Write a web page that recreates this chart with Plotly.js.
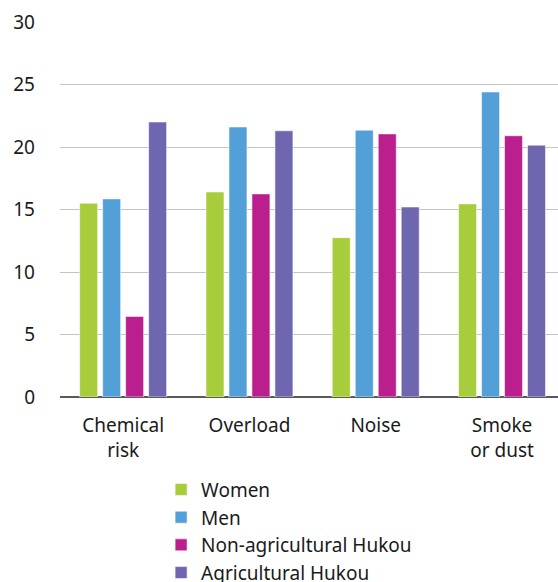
<!DOCTYPE html>
<html>
<head>
<meta charset="utf-8">
<script src="https://cdn.plot.ly/plotly-3.0.1.min.js"></script>
<style>html,body{margin:0;padding:0;background:#fff;}#chart{width:558px;height:582px;}</style>
</head>
<body>
<div id="chart"></div>
<script>
const categories = ["Chemical<br>risk", "Overload", "Noise", "Smoke<br>or dust"];
const seriesNames = ["Women", "Men", "Non-agricultural Hukou", "Agricultural Hukou"];
const women = [15.5, 16.4, 12.75, 15.45];
const men = [15.85, 21.6, 21.35, 24.4];
const nonAgricultural = [6.45, 16.25, 21.05, 20.9];
const agricultural = [22.0, 21.3, 15.2, 20.15];
const yTicks = [0, 5, 10, 15, 20, 25, 30];
const colors = ["#a7cc3c", "#539fd7", "#bb1f8d", "#6e66ae"];

const values = [women, men, nonAgricultural, agricultural];
const traces = values.map((v, i) => ({
  type: "bar",
  name: seriesNames[i],
  x: categories,
  y: v,
  marker: {color: colors[i], line: {color: "rgba(255,255,255,0.7)", width: 0.8}},
  hoverinfo: "none"
}));

const layout = {
  width: 558, height: 582,
  margin: {l: 60, r: 0, t: 22, b: 185, autoexpand: false},
  paper_bgcolor: "#fff", plot_bgcolor: "#fff",
  font: {family: "Noto Sans, sans-serif", size: 19, color: "#1a1a1a"},
  barmode: "group",
  bargap: 0.272,
  bargroupgap: 0.217,
  xaxis: {
    type: "category",
    range: [-0.5, 3.443],
    automargin: false,
    showgrid: false,
    showline: false,
    ticks: "",
    tickfont: {size: 19, color: "#1a1a1a"},
    ticklabelstandoff: 15,
    zeroline: false
  },
  yaxis: {
    range: [0, 30],
    automargin: false,
    tickvals: yTicks,
    ticktext: yTicks.map(String),
    showgrid: true,
    gridcolor: "#c4c4c4",
    gridwidth: 1,
    zeroline: true,
    zerolinecolor: "#5a5a5a",
    zerolinewidth: 1.5,
    showline: false,
    ticks: "",
    ticklabelstandoff: 24,
    tickfont: {size: 19, color: "#1a1a1a"}
  },
  showlegend: true,
  legend: {
    orientation: "v",
    x: 0.203, xanchor: "left",
    y: -0.1963, yanchor: "top",
    font: {size: 19, color: "#1a1a1a"},
    bgcolor: "rgba(0,0,0,0)",
    traceorder: "normal",
    itemclick: false
  }
};

Plotly.newPlot("chart", traces, layout, {displayModeBar: false, staticPlot: true});
</script>
</body>
</html>
